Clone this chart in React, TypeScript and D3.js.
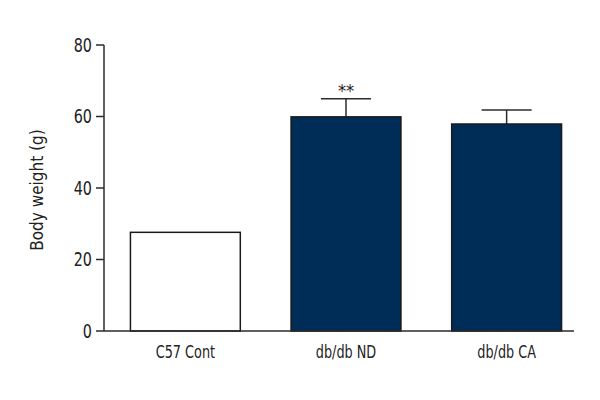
import React from 'react';
import * as d3 from 'd3';

const categories = ['C57 Cont', 'db/db ND', 'db/db CA'];
const means = [27.6, 59.9, 57.9];
const errors = [0, 5.1, 3.9];
const marks = ['', '**', ''];
const fills = ['#ffffff', '#002d58', '#002d58'];
const yTicks = [0, 20, 40, 60, 80];

const FONT = '"Liberation Sans Narrow", "DejaVu Sans Condensed", "Open Sans", sans-serif';
const SQUEEZE = 0.84; // the original uses a narrow font, so condense horizontally

export default function App() {
  const width = 600;
  const height = 400;
  const margin = { top: 45, right: 26, bottom: 69, left: 104 };

  const x = d3.scaleBand<string>()
    .domain(categories)
    .range([margin.left, width - margin.right])
    .paddingInner(0.316)
    .paddingOuter(0.121)
    .align(0.68);

  const y = d3.scaleLinear()
    .domain([0, 80])
    .range([height - margin.bottom, margin.top]);

  const ink = '#2b2b2b';

  return (
    <svg width={width} height={height} style={{ position: 'absolute', left: 0, top: 0, background: '#fff' }}>
      {/* y axis */}
      <line x1={margin.left} x2={margin.left} y1={y(80)} y2={y(0)} stroke={ink} strokeWidth={1.5} />
      {yTicks.map(t => (
        <g key={t}>
          <line x1={margin.left - 8} x2={margin.left} y1={y(t)} y2={y(t)} stroke={ink} strokeWidth={1.5} />
          <text
            transform={`translate(${margin.left - 12}, ${y(t)}) scale(${SQUEEZE}, 1)`}
            dy="0.36em"
            textAnchor="end"
            fontFamily={FONT}
            fontSize={19}
            fill="#222"
          >
            {t}
          </text>
        </g>
      ))}
      <text
        transform={`translate(43, ${(y(0) + y(80)) / 2 + 2}) rotate(-90)`}
        textAnchor="middle"
        fontFamily={FONT}
        fontSize={17}
        fill="#222"
      >
        Body weight (g)
      </text>

      {/* bars */}
      {categories.map((c, i) => {
        const bx = x(c)!;
        const cx = bx + x.bandwidth() / 2;
        const top = y(means[i]);
        const errTop = y(means[i] + errors[i]);
        return (
          <g key={c}>
            {errors[i] > 0 && (
              <g stroke={ink} strokeWidth={1.5}>
                <line x1={cx} x2={cx} y1={top} y2={errTop} />
                <line x1={cx - 25} x2={cx + 25} y1={errTop} y2={errTop} />
              </g>
            )}
            <rect
              x={bx}
              y={top}
              width={x.bandwidth()}
              height={y(0) - top}
              fill={fills[i]}
              stroke="#1a1a1a"
              strokeWidth={1.5}
            />
            {marks[i] && (
              <text x={cx} y={errTop - 2} textAnchor="middle" fontFamily={FONT} fontSize={18} fill="#222">
                {marks[i]}
              </text>
            )}
            <text
              transform={`translate(${cx}, ${y(0) + 27}) scale(${SQUEEZE}, 1)`}
              textAnchor="middle"
              fontFamily={FONT}
              fontSize={17}
              fill="#222"
            >
              {c}
            </text>
          </g>
        );
      })}

      {/* x axis */}
      <line x1={margin.left} x2={width - margin.right} y1={y(0)} y2={y(0)} stroke={ink} strokeWidth={1.5} />
    </svg>
  );
}
